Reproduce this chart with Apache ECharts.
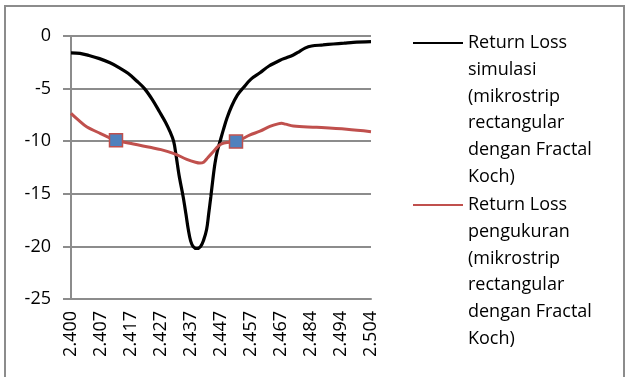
<!DOCTYPE html>
<html>
<head>
<meta charset="utf-8">
<script src="https://cdn.jsdelivr.net/npm/echarts@6/dist/echarts.min.js"></script>
<style>
  html, body { margin: 0; padding: 0; background: #fff; }
  #chart { width: 627px; height: 377px; }
</style>
</head>
<body>
<div id="chart"></div>
<script>
// Frequency tick labels (GHz), one per major x position
const tickLabels = ['2.400', '2.407', '2.417', '2.427', '2.437', '2.447', '2.457', '2.467', '2.484', '2.494', '2.504'];

// Simulated return loss: [position along tick axis, dB]
const simulasi = [
  [0, -1.6], [0.3, -1.65], [0.6, -1.85], [0.95, -2.15], [1.3, -2.55], [1.6, -3.0],
  [1.9, -3.55], [2.2, -4.3], [2.45, -5.0], [2.7, -6.0], [2.95, -7.2], [3.15, -8.2],
  [3.3, -9.1], [3.42, -10.0], [3.5, -11.3], [3.6, -13.2], [3.74, -15.3], [3.83, -16.9],
  [3.91, -18.4], [3.99, -19.5], [4.07, -20.0], [4.19, -20.2], [4.32, -20.0], [4.42, -19.4],
  [4.52, -18.4], [4.59, -16.9], [4.66, -15.3], [4.73, -13.6], [4.8, -12.1], [4.88, -10.9],
  [4.97, -10.0], [5.08, -8.9], [5.2, -7.8], [5.35, -6.7], [5.55, -5.6], [5.75, -4.9],
  [6.0, -4.1], [6.3, -3.5], [6.6, -2.85], [6.97, -2.3], [7.2, -2.05], [7.41, -1.8],
  [7.6, -1.5], [7.8, -1.15], [8.02, -0.95], [8.4, -0.85], [8.74, -0.76], [9.1, -0.68],
  [9.41, -0.6], [10, -0.54]
];

// Measured return loss: [position along tick axis, dB]
const pengukuran = [
  [0, -7.35], [0.25, -8.0], [0.52, -8.62], [0.97, -9.25], [1.5, -9.9], [2.08, -10.27],
  [2.63, -10.58], [3.0, -10.8], [3.41, -11.15], [3.86, -11.72], [4.15, -12.0], [4.3, -12.08],
  [4.42, -12.0], [4.55, -11.6], [4.74, -11.0], [4.9, -10.5], [5.02, -10.25], [5.2, -10.12],
  [5.5, -10.04], [5.97, -9.4], [6.3, -9.05], [6.63, -8.6], [6.9, -8.35], [7.02, -8.3],
  [7.15, -8.38], [7.41, -8.56], [8.19, -8.68], [9.19, -8.87], [10, -9.1]
];

// Indices of the measured points marked as -10 dB crossings
const markedPoints = [4, 18];

const simName = 'Return Loss\nsimulasi\n(mikrostrip\nrectangular\ndengan Fractal\nKoch)';
const ukurName = 'Return Loss\npengukuran\n(mikrostrip\nrectangular\ndengan Fractal\nKoch)';

const FONT = 'Open Sans';
const GRID_GRAY = '#8c8c8c';
const LINE_H = 26.7;

const chart = echarts.init(document.getElementById('chart'), null, { renderer: 'canvas' });

const measuredData = pengukuran.map((p, i) => markedPoints.includes(i)
  ? { value: p, symbol: 'rect', symbolSize: 13,
      itemStyle: { color: '#4F81BD', borderColor: '#C0504D', borderWidth: 1.5 } }
  : p);

// legend text: first line aligned with the icon
const legendBase = {
  orient: 'vertical',
  left: 412,
  padding: 0,
  itemWidth: 50,
  itemHeight: 14,
  itemGap: 0,
  selectedMode: false,
  itemStyle: { opacity: 0 },
  textStyle: { fontFamily: FONT, fontSize: 18, lineHeight: LINE_H, color: '#000' },
  formatter: (n) => '\n\n\n\n\n' + n
};

chart.setOption({
  animation: false,
  backgroundColor: '#fff',
  graphic: [{
    type: 'rect',
    shape: { x: 5, y: 6, width: 619, height: 400 },
    style: { fill: 'none', stroke: GRID_GRAY, lineWidth: 2 },
    silent: true
  }],
  grid: { left: 71, right: 256, top: 36, bottom: 78, containLabel: false },
  legend: [
    Object.assign({}, legendBase, { data: [simName], top: 43 - 5.5 * LINE_H }),
    Object.assign({}, legendBase, { data: [ukurName], top: 205 - 5.5 * LINE_H })
  ],
  xAxis: {
    type: 'value',
    min: 0, max: 10, interval: 1,
    axisLine: { show: true, onZero: false, lineStyle: { color: GRID_GRAY, width: 2 } },
    axisTick: { show: false },
    splitLine: { show: false },
    axisLabel: {
      rotate: 90, margin: 12,
      fontFamily: FONT, fontSize: 18, color: '#000',
      formatter: (v) => tickLabels[Math.round(v)] || ''
    }
  },
  yAxis: {
    type: 'value',
    min: -25, max: 0, interval: 5,
    axisLine: { show: true, lineStyle: { color: GRID_GRAY, width: 2 } },
    axisTick: { show: true, length: 8, lineStyle: { color: GRID_GRAY, width: 2 } },
    splitLine: { show: true, lineStyle: { color: GRID_GRAY, width: 2 } },
    axisLabel: { margin: 20, fontFamily: FONT, fontSize: 18, color: '#000' }
  },
  series: [
    {
      name: simName,
      type: 'line',
      data: simulasi,
      symbol: 'none',
      smooth: 0.35,
      lineStyle: { color: '#000', width: 3.2 },
      itemStyle: { color: '#000' }
    },
    {
      name: ukurName,
      type: 'line',
      data: measuredData,
      symbol: 'none',
      smooth: 0.35,
      lineStyle: { color: '#C0504D', width: 3 },
      itemStyle: { color: '#C0504D' },
      z: 3
    }
  ]
});
</script>
</body>
</html>
